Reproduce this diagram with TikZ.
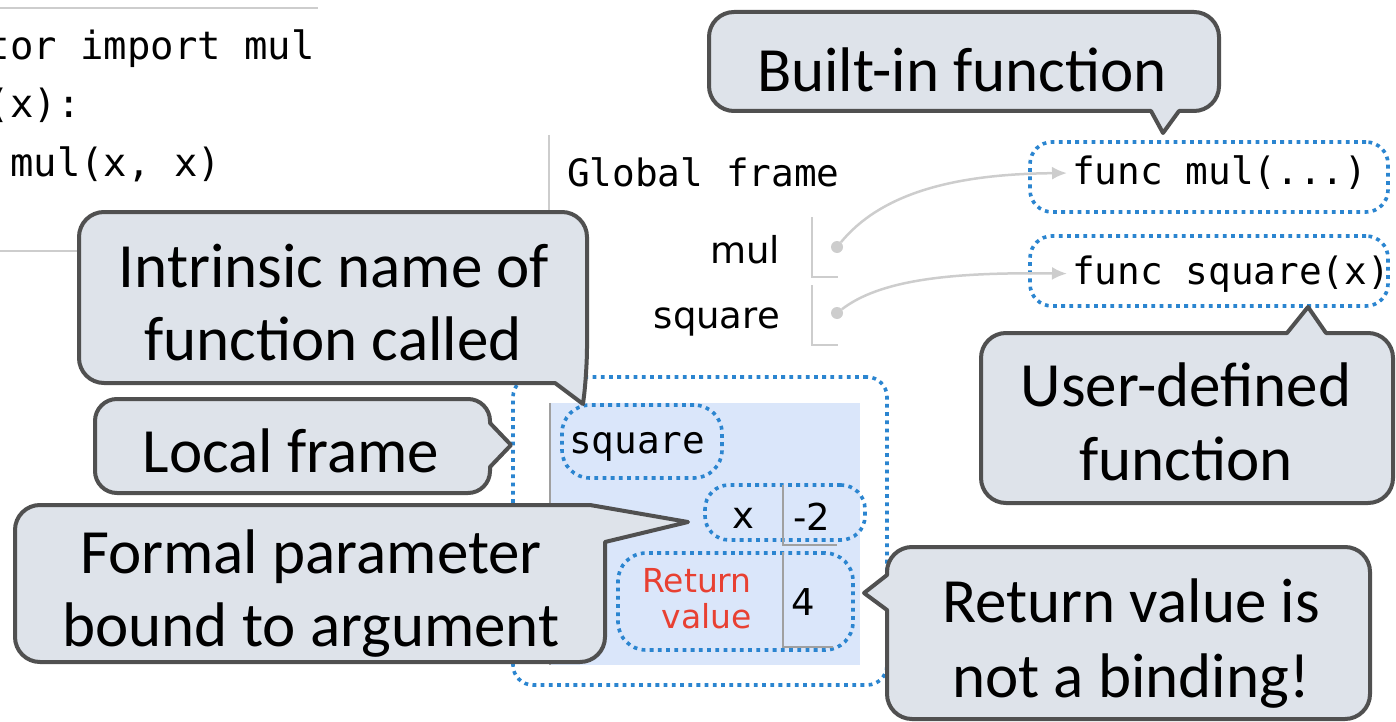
\documentclass[tikz,border=0pt]{standalone}
\usepackage{fontspec}
\setmainfont{Carlito}
\newfontfamily\codefont{DejaVu Sans Mono}
\newfontfamily\labfont{DejaVu Sans}
\usetikzlibrary{arrows.meta}
\definecolor{callfill}{RGB}{222,227,234}
\definecolor{callline}{RGB}{80,80,80}
\definecolor{dotblue}{RGB}{43,133,208}
\definecolor{framebg}{RGB}{218,230,250}
\definecolor{linegray}{RGB}{205,205,205}
\definecolor{rowgray}{RGB}{160,160,160}
\definecolor{retred}{RGB}{232,64,50}
\begin{document}
\begin{tikzpicture}[x=1pt,y=-1pt,
  cbox/.style={draw=callline, fill=callfill, line width=4pt, line join=round},
  ctext/.style={font=\fontsize{63}{74}\selectfont, inner sep=0pt, anchor=base},
  code/.style={font=\codefont\fontsize{38.9}{45}\selectfont, inner sep=0pt, anchor=base west},
  mono/.style={font=\codefont\fontsize{37.7}{45}\selectfont, inner sep=0pt, anchor=base west},
  lab/.style={font=\labfont\fontsize{37}{44}\selectfont, inner sep=0pt},
  redlab/.style={font=\labfont\fontsize{33}{38}\selectfont, text=retred, inner sep=0pt, anchor=base east},
  dotbox/.style={draw=dotblue, line width=3.6pt, dash pattern=on 3.8pt off 4.4pt, rounded corners=#1, inner sep=0pt},
  dotbox/.default=22pt,
  gline/.style={draw=linegray, line width=2pt},
  rowline/.style={draw=rowgray, line width=1.5pt},
  dotc/.style={circle, fill=linegray, minimum size=12pt, inner sep=0pt},
  ptr/.style={draw=linegray, line width=2.5pt, -{Latex[length=15pt,width=13pt]}}
]
\useasboundingbox (0,0) rectangle (1396,722);

% code panel
\draw[gline] (0,8) -- (318,8);
\draw[gline] (0,251) -- (100,251);
\node[code] (c1) at (-13.4,60) {tor import mul};
\node[code] (c2) at (-13.4,118) {(x):};
\node[code] (c3) at (10,177) {mul(x, x)};

% global frame
\draw[gline] (549,135) -- (549,370);
\node[mono] (gf) at (567,186) {Global frame};
\node[lab, anchor=base east] (lmul) at (780,263) {mul};
\node[lab, anchor=base east] (lsq) at (780,328) {square};
\draw[gline] (812,217) -- (812,277) -- (838,277);
\draw[gline] (812,285) -- (812,345) -- (838,345);
\node[dotc] (dm) at (837,247) {};
\node[dotc] (ds) at (837,313) {};

% function objects
\node[dotbox] (fm) at (1209,177) [minimum width=358pt, minimum height=70pt] {};
\node[dotbox] (fs) at (1209,271) [minimum width=358pt, minimum height=70pt] {};
\node[mono] (fmt) at (1072,185) {func mul(...)};
\node[mono] (fst) at (1072,284) {func square(x)};
\draw[ptr] (dm) .. controls (880,195) and (950,174) .. ([xshift=-5pt]fmt.west);
\draw[ptr] (ds) .. controls (880,280) and (950,272) .. ([xshift=-5pt]fst.west);

% local frame
\node[fill=framebg, minimum width=310pt, minimum height=262pt, inner sep=0pt] (lfr) at (705,534) {};
\draw[rowline] (lfr.north west) -- (lfr.south west);
\node[dotbox=20pt] (outer) at (700,531) [minimum width=374pt, minimum height=308pt] {};
\node[dotbox=28pt] (sqb) at (642,441.5) [minimum width=160pt, minimum height=73pt] {};
\node[mono] (sqn) at (569,453) {square};
\node[dotbox=24pt] (xb) at (785,512.5) [minimum width=160pt, minimum height=55pt] {};
\node[dotbox=28pt] (rb) at (735.5,601.5) [minimum width=235pt, minimum height=97pt] {};
\draw[rowline] (783,485) -- (783,545) -- (837,545);
\draw[rowline] (783,552) -- (783,647) -- (833,647);
\node[lab, anchor=base] (lx) at (743,528) {x};
\node[lab, anchor=base] (lm2) at (812,530) {-2};
\node[lab, anchor=base] (l4) at (803,615) {4};
\node[redlab] (lr1) at (752,592) {Return};
\node[redlab] (lr2) at (752,628) {value};

% callouts
\draw[cbox] (709,60) [rounded corners=25pt] -- (709,12) -- (1219,12) -- (1219,111) [sharp corners] -- (1179,111) -- (1163,133) -- (1151,111) [rounded corners=25pt] -- (709,111) -- cycle;
\node[ctext] (bi) at (962,92) {Built-in function};

\draw[cbox] (79,300) [rounded corners=25pt] -- (79,212) -- (587,212) -- (587,372) [sharp corners] -- (583,404) -- (555,383) [rounded corners=25pt] -- (79,383) -- cycle;
\node[ctext] (in1) at (334,287) {Intrinsic name of};
\node[ctext] (in2) at (333,360) {function called};

\draw[cbox] (95,446) [rounded corners=22pt] -- (95,399) -- (490,399) [sharp corners] -- (490,423) -- (511,445) -- (490,467) [rounded corners=22pt] -- (490,493) -- (95,493) -- cycle;
\node[ctext] (lf) at (291,472) {Local frame};

\draw[cbox] (15,580) [rounded corners=25pt] -- (15,505) [sharp corners] -- (590,505) -- (688,522) -- (605,542) [rounded corners=25pt] -- (605,662) -- (15,662) -- cycle;
\node[ctext] (fp1) at (311,573) {Formal parameter};
\node[ctext] (fp2) at (311,646) {bound to argument};

\draw[cbox] (981,420) [rounded corners=25pt] -- (981,333) [sharp corners] -- (1287,333) -- (1308,307) -- (1326,333) [rounded corners=25pt] -- (1393,333) -- (1393,503) -- (981,503) -- cycle;
\node[ctext] (ud1) at (1186,406) {User-defined};
\node[ctext] (ud2) at (1186,480) {function};

\draw[cbox] (1130,547) [rounded corners=25pt] -- (1370,547) -- (1370,719) -- (887,719) [sharp corners] -- (887,610) -- (864,593) -- (887,575) [rounded corners=25pt] -- (887,547) -- cycle;
\node[ctext] (rv1) at (1131,622) {Return value is};
\node[ctext] (rv2) at (1131,697) {not a binding!};
\end{tikzpicture}
\end{document}
